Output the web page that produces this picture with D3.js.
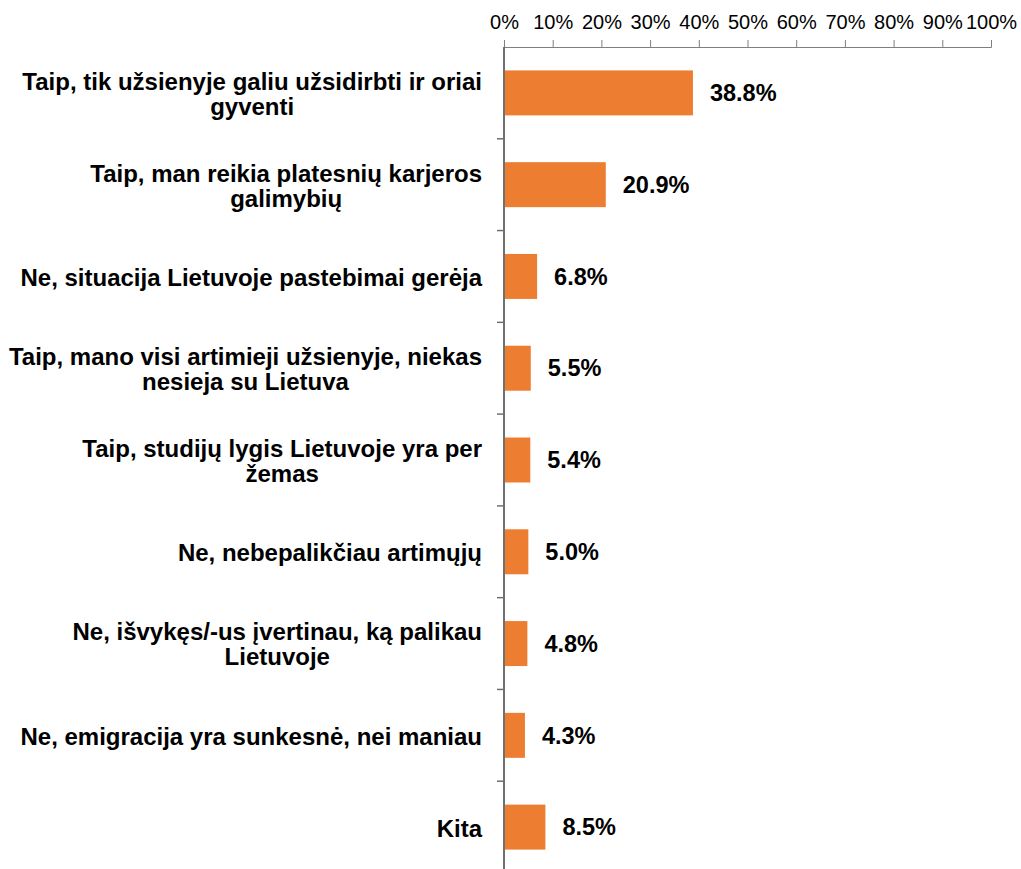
<!DOCTYPE html>
<html>
<head>
<meta charset="utf-8">
<script src="https://cdn.jsdelivr.net/npm/d3@7"></script>
<style>
    body { margin: 0; background: #fff; }
    svg { display: block; font-family: "Liberation Sans", Arial, sans-serif; }
</style>
</head>
<body>
<div id="vis"></div>
<script>
// answers, top to bottom ("\n" = line break in the label)
var categories = [
    'Taip, tik užsienyje galiu užsidirbti ir oriai\ngyventi',
    'Taip, man reikia platesnių karjeros\ngalimybių',
    'Ne, situacija Lietuvoje pastebimai gerėja',
    'Taip, mano visi artimieji užsienyje, niekas\nnesieja su Lietuva',
    'Taip, studijų lygis Lietuvoje yra per\nžemas',
    'Ne, nebepalikčiau artimųjų',
    'Ne, išvykęs/-us įvertinau, ką palikau\nLietuvoje',
    'Ne, emigracija yra sunkesnė, nei maniau',
    'Kita'
];
var values = [38.8, 20.9, 6.8, 5.5, 5.4, 5.0, 4.8, 4.3, 8.5];
var tickValues = [0, 10, 20, 30, 40, 50, 60, 70, 80, 90, 100];

var data = categories.map(function(c, i) { return { cat: c, value: values[i] }; });

var W = 1021, H = 869;
var margin = { left: 504, top: 47, right: 30 };

var svg = d3.select('#vis')
    .append('svg')
    .attr('width', W)
    .attr('height', H);

var xScale = d3.scaleLinear()
    .domain([0, 100])
    .range([margin.left, 991]);

var yScale = d3.scaleBand()
    .domain(categories)
    .range([margin.top, 873])
    .paddingInner(0.51)
    .paddingOuter(0.255);

var step = yScale.step();

// bars
svg.append('g').selectAll('rect')
    .data(data)
    .enter().append('rect')
    .attr('x', xScale(0))
    .attr('y', function(d) { return yScale(d.cat); })
    .attr('width', function(d) { return xScale(d.value) - xScale(0); })
    .attr('height', yScale.bandwidth())
    .attr('fill', '#ED7D31');

// top axis
var xAxis = d3.axisTop(xScale)
    .tickValues(tickValues)
    .tickSize(7)
    .tickSizeOuter(7)
    .tickPadding(11)
    .tickFormat(function(d) { return d + '%'; });

var gx = svg.append('g')
    .attr('transform', 'translate(0,' + margin.top + ')')
    .call(xAxis);
gx.select('.domain').attr('stroke', '#7f7f7f');
gx.selectAll('.tick line').attr('stroke', '#7f7f7f');
gx.selectAll('.tick text')
    .style('font-size', '20px')
    .attr('fill', '#000');

// left axis: line plus ticks between the bands
svg.append('line')
    .attr('x1', xScale(0)).attr('x2', xScale(0))
    .attr('y1', margin.top).attr('y2', H)
    .attr('stroke', '#707070')
    .attr('stroke-width', 2);

svg.append('g').selectAll('line')
    .data(categories.slice(1))
    .enter().append('line')
    .attr('x1', xScale(0) - 7).attr('x2', xScale(0))
    .attr('y1', function(d) { return yScale(d) - step * yScale.paddingInner() / 2; })
    .attr('y2', function(d) { return yScale(d) - step * yScale.paddingInner() / 2; })
    .attr('stroke', '#707070')
    .attr('stroke-width', 1.5);

// category labels, each line centred inside a right-aligned block
var lineH = 25;
var labelRight = 482;
var labels = svg.append('g').selectAll('text')
    .data(data)
    .enter().append('text')
    .style('font-size', '24px')
    .style('font-weight', 'bold')
    .attr('fill', '#000')
    .attr('text-anchor', 'middle');

labels.each(function(d) {
    var t = d3.select(this);
    var lines = d.cat.split('\n');
    var cy = yScale(d.cat) + yScale.bandwidth() / 2 + 1;
    var spans = lines.map(function(l, i) {
        return t.append('tspan')
            .attr('y', cy + (i - (lines.length - 1) / 2) * lineH)
            .attr('dy', '0.35em')
            .text(l);
    });
    var maxW = d3.max(spans, function(s) { return s.node().getComputedTextLength(); });
    spans.forEach(function(s) { s.attr('x', labelRight - maxW / 2); });
});

// value labels
svg.append('g').selectAll('text')
    .data(data)
    .enter().append('text')
    .attr('x', function(d) { return xScale(d.value) + 17; })
    .attr('y', function(d) { return yScale(d.cat) + yScale.bandwidth() / 2; })
    .attr('dy', '0.35em')
    .style('font-size', '23.5px')
    .style('font-weight', 'bold')
    .attr('fill', '#000')
    .text(function(d) { return d.value.toFixed(1) + '%'; });
</script>
</body>
</html>
